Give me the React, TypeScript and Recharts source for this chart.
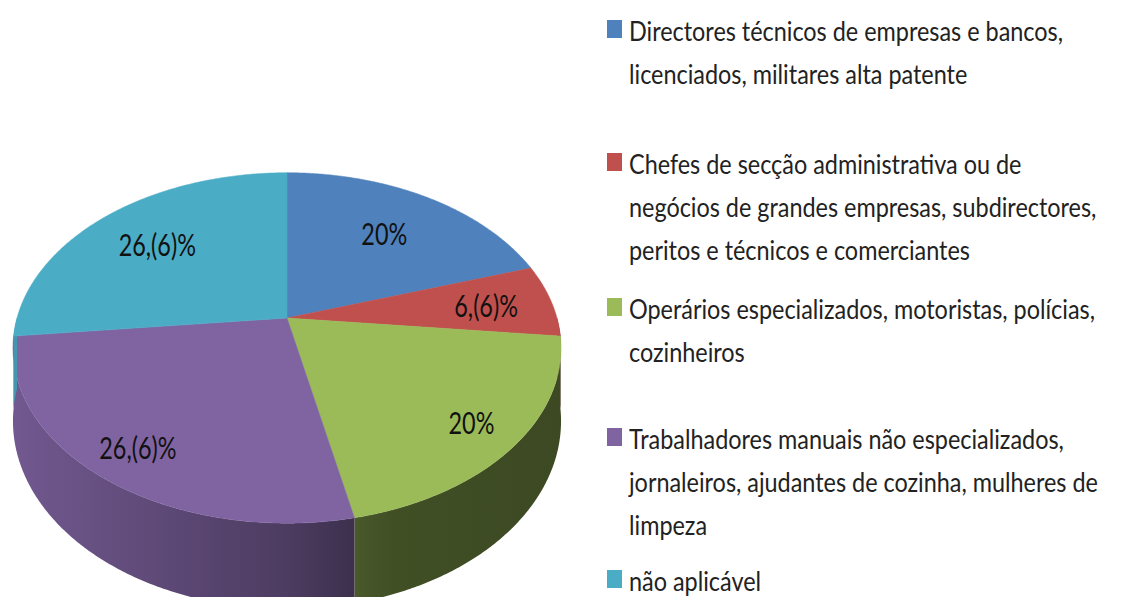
import { PieChart, Pie, Cell, Legend } from "recharts";

// categories (line breaks as in the original legend)
const categories = [
  "Directores técnicos de empresas e bancos,\nlicenciados, militares alta patente",
  "Chefes de secção administrativa ou de\nnegócios de grandes empresas, subdirectores,\nperitos e técnicos e comerciantes",
  "Operários especializados, motoristas, polícias,\ncozinheiros",
  "Trabalhadores manuais não especializados,\njornaleiros, ajudantes de cozinha, mulheres de\nlimpeza",
  "não aplicável",
];
const values = [20, 6.67, 20, 26.67, 26.67];
const valueLabels = ["20%", "6,(6)%", "20%", "26,(6)%", "26,(6)%"];
const colors = ["#4F81BD", "#C0504D", "#9BBB59", "#8064A2", "#4BACC6"];

const data = categories.map((name, i) => ({ name, value: values[i] }));

const TILT = 0.63; // vertical squash of the top face
const PERSP = 0.171; // front of the pie looks bigger than the back
const DEPTH = 71; // thickness of the pie
const LEGEND_ROWS = [133, 145, 130, 142, 40]; // legend spacing, as laid out in the original

const FONT = "Lato, 'Open Sans', sans-serif";

// u, v are unit-disk coords (v points toward the viewer)
function project(cx: number, cy: number, r: number, u: number, v: number, h: number) {
  const d = 1 - PERSP * v;
  return [cx + (r * u) / d, cy + (r * TILT * v + h) / d];
}

function rimPoint(cx: number, cy: number, r: number, angle: number, h: number) {
  const a = (angle * Math.PI) / 180;
  return project(cx, cy, r, Math.cos(a), -Math.sin(a), h);
}

function shade(hex: string, f: number) {
  const n = parseInt(hex.slice(1), 16);
  const c = [(n >> 16) & 255, (n >> 8) & 255, n & 255].map((x) => Math.round(x * f));
  return `rgb(${c[0]},${c[1]},${c[2]})`;
}

function arc(cx: number, cy: number, r: number, from: number, to: number, h: number) {
  const n = Math.max(2, Math.ceil(Math.abs(to - from) * 2));
  const pts: number[][] = [];
  for (let i = 0; i <= n; i++) pts.push(rimPoint(cx, cy, r, from + ((to - from) * i) / n, h));
  return pts;
}

function Slice3D(props: any) {
  const { cx, cy, outerRadius, startAngle, endAngle, fill, index } = props;
  const top = arc(cx, cy, outerRadius, startAngle, endAngle, 0);
  const centre = project(cx, cy, outerRadius, 0, 0, 0);
  const topPath =
    `M${centre[0]},${centre[1]} ` + top.map((p) => `L${p[0]},${p[1]}`).join(" ") + " Z";

  // only the front half of the side wall is visible
  const lo = Math.max(Math.min(startAngle, endAngle), -180);
  const hi = Math.min(Math.max(startAngle, endAngle), 0);
  let wall = null;
  if (hi > lo) {
    const upper = arc(cx, cy, outerRadius, lo, hi, 0);
    const lower = arc(cx, cy, outerRadius, hi, lo, DEPTH);
    const pts = upper.concat(lower);
    const id = `wall-${index}`;
    wall = (
      <g>
        <defs>
          <linearGradient
            id={id}
            gradientUnits="userSpaceOnUse"
            x1={cx - outerRadius}
            x2={cx + outerRadius}
            y1={0}
            y2={0}
          >
            <stop offset="0" stopColor={shade(fill, 0.88)} />
            <stop offset="0.5" stopColor={shade(fill, 0.6)} />
            <stop offset="0.62" stopColor={shade(fill, 0.48)} />
            <stop offset="0.7" stopColor={shade(fill, 0.42)} />
            <stop offset="1" stopColor={shade(fill, 0.39)} />
          </linearGradient>
        </defs>
        <path d={"M" + pts.map((p) => `${p[0]},${p[1]}`).join(" L") + " Z"} fill={`url(#${id})`} />
      </g>
    );
  }

  return (
    <g>
      {wall}
      <path d={topPath} fill={fill} stroke={fill} strokeWidth={0.5} />
    </g>
  );
}

function renderLabel(props: any) {
  const { cx, cy, outerRadius, midAngle, index } = props;
  const a = (midAngle * Math.PI) / 180;
  const u = Math.cos(a);
  const v = -Math.sin(a);
  // labels sit a bit further out on the front slices, as Excel draws them
  const f = 0.765 + 0.1 * v - 0.03 * Math.max(0, -u * v);
  const [x, y] = project(cx, cy, outerRadius, u * f, v * f, 0);
  return (
    <text
      transform={`translate(${x},${y}) scale(0.78,1)`}
      textAnchor="middle"
      dominantBaseline="central"
      fontSize={30}
      fontFamily={FONT}
      fill="#111"
    >
      {valueLabels[index]}
    </text>
  );
}

function LegendContent() {
  return (
    <div style={{ fontFamily: FONT, color: "#222" }}>
      {categories.map((name, i) => (
        <div key={name} style={{ position: "relative", height: LEGEND_ROWS[i] }}>
          <div
            style={{
              position: "absolute",
              left: 0,
              top: 10,
              width: 15,
              height: 18,
              background: colors[i],
            }}
          />
          <div
            style={{
              position: "absolute",
              left: 22,
              top: 0,
              fontSize: 26,
              lineHeight: "43px",
              whiteSpace: "pre",
              transform: "scaleX(0.9)",
              transformOrigin: "left top",
            }}
          >
            {name}
          </div>
        </div>
      ))}
    </div>
  );
}

export default function App() {
  return (
    <div style={{ margin: -8, width: 1123, height: 605, background: "#fff" }}>
      <PieChart width={1123} height={605} margin={{ top: 0, right: 0, bottom: 0, left: 0 }}>
        <Pie
          data={data}
          dataKey="value"
          nameKey="name"
          cx={287}
          cy={318}
          outerRadius={270}
          startAngle={90}
          endAngle={-270}
          stroke="none"
          shape={Slice3D}
          label={renderLabel}
          labelLine={false}
          isAnimationActive={false}
        >
          {data.map((d, i) => (
            <Cell key={d.name} fill={colors[i]} />
          ))}
        </Pie>
        <Legend
          layout="vertical"
          verticalAlign="top"
          align="right"
          content={LegendContent}
          wrapperStyle={{ left: 607, top: 10, width: 516 }}
        />
      </PieChart>
    </div>
  );
}
